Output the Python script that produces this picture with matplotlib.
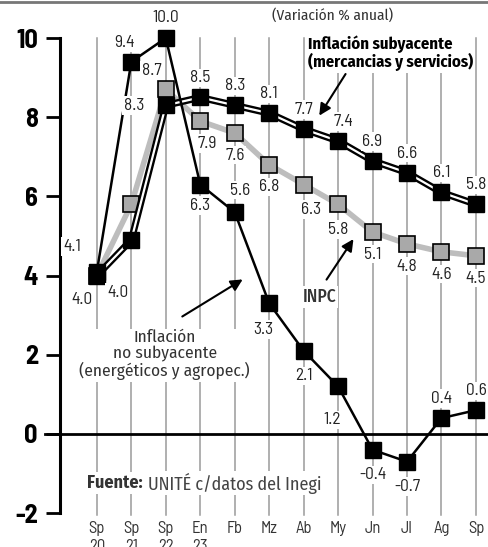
import matplotlib.pyplot as plt
import numpy as np
from matplotlib.lines import Line2D

NUM = ['Barlow Semi Condensed', 'DejaVu Sans']
TXT = ['Fira Sans Condensed', 'DejaVu Sans']
plt.rcParams['font.family'] = NUM

meses = ["Sp\n20", "Sp\n21", "Sp\n22", "En\n23", "Fb", "Mz", "Ab", "My", "Jn", "Jl", "Ag", "Sp"]
subyacente = [4.0, 4.9, 8.3, 8.5, 8.3, 8.1, 7.7, 7.4, 6.9, 6.6, 6.1, 5.8]
inpc = [4.0, 5.8, 8.7, 7.9, 7.6, 6.8, 6.3, 5.8, 5.1, 4.8, 4.6, 4.5]
no_subyacente = [4.1, 9.4, 10.0, 6.3, 5.6, 3.3, 2.1, 1.2, -0.4, -0.7, 0.4, 0.6]

# which labels are shown and where (dx, dy in points)
lab_sub = {0: (-11, -17), 2: (-23, 0), 3: (0, 14), 4: (0, 14), 5: (0, 14), 6: (0, 14),
           7: (4, 14), 8: (0, 14), 9: (0, 14), 10: (0, 14), 11: (0, 14)}
lab_inpc = {0: (15, -12), 2: (-10, 14), 3: (5, -16), 4: (0, -16), 5: (0, -16),
            6: (5, -18), 7: (0, -18), 8: (0, -16), 9: (0, -16), 10: (0, -16), 11: (0, -16)}
lab_no = {0: (-18, 18), 1: (-5, 14), 2: (0, 15), 3: (0, -15), 4: (4, 16), 5: (-4, -19),
          6: (0, -18), 7: (-4, -24), 8: (0, -18), 9: (0, -18), 10: (0, 14), 11: (0, 14)}

W, H = 488, 547
fig = plt.figure(figsize=(W / 100, H / 100), dpi=100)
ax = fig.add_axes([60 / W, 0, 1 - 60 / W, 1])
x = np.arange(len(meses))
ax.set_xlim(-1.07, 11.35)
ax.set_ylim(-2.855, 10.96)

for s in ["top", "right", "bottom"]:
    ax.spines[s].set_visible(False)
ax.spines["left"].set_bounds(-2, 10)
ax.spines["left"].set_linewidth(2.2)
ax.set_yticks([-2, 0, 2, 4, 6, 8, 10])
ax.set_yticklabels(["-2", "0", "2", "4", "6", "8", "10"])
ax.tick_params(axis="y", direction="out", length=10, width=2, labelsize=19, pad=6)
for t in ax.get_yticklabels():
    t.set_fontweight("bold")
ax.set_xticks([])

# vertical guide lines
for xi in x:
    ax.plot([xi, xi], [-2.05, 10.0], color="#9a9a9a", lw=1.1, zorder=1)

# zero line
ax.axhline(0, color="black", lw=2, zorder=2)
ax.plot([-1.5, -1.07], [0, 0], color="black", lw=2, clip_on=False)

# INPC
ax.plot(x, inpc, color="#bdbdbd", lw=4, zorder=3)
ax.plot(x, inpc, ls="none", marker="s", ms=12, mfc="#a9a9a9", mec="black", mew=1.2, zorder=4)

# subyacente (double line)
ax.plot(x, subyacente, color="black", lw=5, zorder=5)
ax.plot(x, subyacente, color="white", lw=1.6, zorder=6)
ax.plot(x, subyacente, ls="none", marker="s", ms=12, color="black", zorder=7)

# no subyacente
ax.plot(x, no_subyacente, color="black", lw=1.8, zorder=8)
ax.plot(x, no_subyacente, ls="none", marker="s", ms=12, color="black", zorder=9)

bb = dict(boxstyle="square,pad=0.1", fc="white", ec="none")
for series, labs in ((subyacente, lab_sub), (inpc, lab_inpc), (no_subyacente, lab_no)):
    for i, (dx, dy) in labs.items():
        ax.annotate(f"{series[i]:.1f}", (x[i], series[i]), xytext=(dx, dy),
                    textcoords="offset points", ha="center", va="center",
                    fontsize=12.5, color="#222222", bbox=bb, zorder=10)

# x labels
for xi, m in zip(x, meses):
    ax.text(xi, -2.2, m, ha="center", va="top", fontsize=12, color="#333333",
            linespacing=1.25)

# source
t1 = ax.text(-0.3, -1.24, "Fuente:", fontsize=13, fontweight="bold", ha="left", va="center",
             color="#333333", family=TXT, bbox=bb, zorder=10)
ax.annotate("UNITÉ c/datos del Inegi", xy=(1, 0.5), xycoords=t1, xytext=(4, 0),
            textcoords="offset points", ha="left", va="center",
            fontsize=13, color="#444444", family=TXT, bbox=bb, zorder=9)

arrow = dict(arrowstyle="-|>,head_width=0.35,head_length=0.7", color="black", lw=1.5)

# annotations
ax.text(6.85, 10.58, "(Variación % anual)", fontsize=11, ha="center", va="center",
        color="#333333", family=TXT)
ax.text(6.12, 9.62, "Inflación subyacente\n(mercancias y servicios)", fontsize=12,
        fontweight="bold", ha="left", va="center", linespacing=1.0, family=TXT,
        bbox=bb, zorder=10)
ax.annotate("", xy=(6.41, 7.98), xytext=(7.26, 9.15), arrowprops=arrow, zorder=11)
ax.text(6.47, 3.46, "INPC", fontsize=12.5, fontweight="medium", ha="center", va="center",
        color="#333333", family=TXT, bbox=bb, zorder=10)
ax.annotate("", xy=(7.49, 4.98), xytext=(6.62, 3.84), arrowprops=arrow, zorder=11)
ax.text(1.97, 2.0, "Inflación\nno subyacente\n(energéticos y agropec.)", fontsize=12.5,
        ha="center", va="center", linespacing=1.0, color="#333333", family=TXT,
        bbox=bb, zorder=10)
ax.annotate("", xy=(4.3, 3.94), xytext=(2.41, 2.93), arrowprops=arrow, zorder=11)

# top rule
fig.add_artist(Line2D([0, 1], [0.997, 0.997], color="#777777", lw=2))

fig.savefig("out.png", dpi=100)
